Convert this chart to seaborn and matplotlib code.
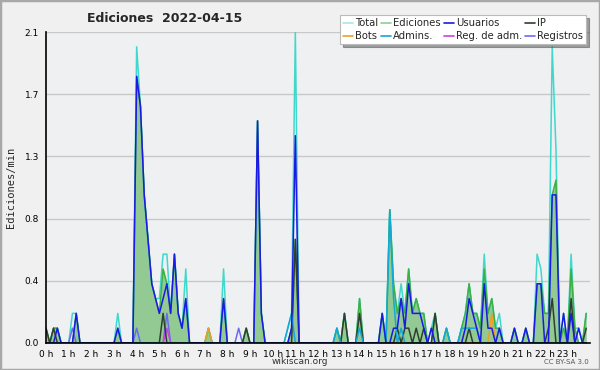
import matplotlib
matplotlib.use('Agg')
import matplotlib.pyplot as plt
from matplotlib.lines import Line2D
from matplotlib.patches import Rectangle
import numpy as np
import seaborn as sns

# edits per minute, one value per 10 minutes (12 values = 2 hours per line)
total = [
    .1, 0, .1, .1, 0, 0, 0, .2, .2, 0, 0, 0,
    0, 0, 0, 0, 0, 0, 0, .2, 0, 0, 0, 0,
    2.0, 1.6, 1.0, .7, .4, .3, .3, .6, .6, .2, .6, .2,
    .1, .5, 0, 0, 0, 0, 0, .1, 0, 0, 0, .5,
    0, 0, 0, 0, 0, .1, 0, 0, 1.5, .2, 0, 0,
    0, 0, 0, 0, .1, .2, 2.1, 0, 0, 0, 0, 0,
    0, 0, 0, 0, 0, .1, 0, .2, 0, 0, 0, .3,
    0, 0, 0, 0, 0, .2, 0, .9, .4, .2, .4, .2,
    .5, .2, .3, .2, .2, 0, .1, .2, 0, 0, .1, 0,
    0, 0, .1, .2, .4, .2, .2, .1, .6, .2, .3, .1,
    .2, 0, 0, 0, .1, 0, 0, .1, 0, 0, .6, .5,
    .2, .2, 2.0, 1.3, 0, .2, 0, .6, .1, .1, 0, .2,
]
ediciones = [
    .1, 0, .1, .1, 0, 0, 0, 0, .2, 0, 0, 0,
    0, 0, 0, 0, 0, 0, 0, .1, 0, 0, 0, 0,
    1.8, 1.6, 1.0, .7, .4, .3, .2, .5, .4, .2, .6, .2,
    .1, .3, 0, 0, 0, 0, 0, .1, 0, 0, 0, .3,
    0, 0, 0, 0, 0, .1, 0, 0, 1.5, .2, 0, 0,
    0, 0, 0, 0, 0, .1, .7, 0, 0, 0, 0, 0,
    0, 0, 0, 0, 0, .1, 0, .2, 0, 0, 0, .3,
    0, 0, 0, 0, 0, .2, 0, .9, .4, .2, .3, .2,
    .5, .2, .3, .2, .2, 0, 0, .2, 0, 0, .1, 0,
    0, 0, .1, .2, .4, .2, .2, .1, .5, .2, .3, .1,
    .1, 0, 0, 0, .1, 0, 0, .1, 0, 0, .4, .4,
    .2, .2, 1.0, 1.1, 0, .1, 0, .5, .1, 0, 0, .2,
]
usuarios = [
    0, 0, 0, .1, 0, 0, 0, 0, .2, 0, 0, 0,
    0, 0, 0, 0, 0, 0, 0, .1, 0, 0, 0, 0,
    1.8, 1.6, 1.0, .7, .4, .3, .2, .3, .4, .2, .6, .2,
    .1, .3, 0, 0, 0, 0, 0, 0, 0, 0, 0, .3,
    0, 0, 0, 0, 0, 0, 0, 0, 1.5, .2, 0, 0,
    0, 0, 0, 0, 0, .1, 1.4, 0, 0, 0, 0, 0,
    0, 0, 0, 0, 0, 0, 0, 0, 0, 0, 0, 0,
    0, 0, 0, 0, 0, .2, 0, 0, .1, .1, .3, .1,
    .4, .2, .2, .2, .1, 0, .1, 0, 0, 0, 0, 0,
    0, 0, 0, .1, .3, .2, .1, 0, .4, .1, .1, 0,
    .1, 0, 0, 0, .1, 0, 0, .1, 0, 0, .4, .4,
    0, 0, 1.0, 1.0, 0, .2, 0, .2, 0, .1, 0, 0,
]
ip = [
    .1, 0, .1, 0, 0, 0, 0, 0, 0, 0, 0, 0,
    0, 0, 0, 0, 0, 0, 0, 0, 0, 0, 0, 0,
    0, 0, 0, 0, 0, 0, 0, .2, 0, 0, 0, 0,
    0, 0, 0, 0, 0, 0, 0, 0, 0, 0, 0, 0,
    0, 0, 0, 0, 0, .1, 0, 0, 0, 0, 0, 0,
    0, 0, 0, 0, 0, 0, .7, 0, 0, 0, 0, 0,
    0, 0, 0, 0, 0, 0, 0, .2, 0, 0, 0, .2,
    0, 0, 0, 0, 0, 0, 0, 0, 0, .1, 0, .1,
    .1, 0, .1, 0, .1, 0, 0, .2, 0, 0, 0, 0,
    0, 0, 0, 0, .1, 0, 0, 0, 0, 0, 0, 0,
    0, 0, 0, 0, 0, 0, 0, 0, 0, 0, 0, 0,
    0, .1, .3, 0, 0, 0, 0, .3, 0, 0, 0, .1,
]
bots = [
    0, 0, 0, 0, 0, 0, 0, 0, 0, 0, 0, 0,
    0, 0, 0, 0, 0, 0, 0, 0, 0, 0, 0, 0,
    0, 0, 0, 0, 0, 0, 0, 0, 0, 0, 0, 0,
    0, 0, 0, 0, 0, 0, 0, .1, 0, 0, 0, 0,
    0, 0, 0, 0, 0, 0, 0, 0, 0, 0, 0, 0,
    0, 0, 0, 0, 0, 0, 0, 0, 0, 0, 0, 0,
    0, 0, 0, 0, 0, 0, 0, 0, 0, 0, 0, 0,
    0, 0, 0, 0, 0, 0, 0, 0, 0, 0, 0, 0,
    0, 0, 0, 0, 0, 0, 0, 0, 0, 0, 0, 0,
    0, 0, 0, 0, 0, 0, 0, 0, 0, 0, .2, 0,
    0, 0, 0, 0, 0, 0, 0, 0, 0, 0, 0, 0,
    0, 0, 0, 0, 0, 0, 0, 0, 0, 0, 0, 0,
]
admins = [
    0, 0, 0, 0, 0, 0, 0, 0, 0, 0, 0, 0,
    0, 0, 0, 0, 0, 0, 0, 0, 0, 0, 0, 0,
    0, 0, 0, 0, 0, 0, 0, 0, 0, 0, 0, 0,
    0, 0, 0, 0, 0, 0, 0, 0, 0, 0, 0, 0,
    0, 0, 0, 0, 0, 0, 0, 0, 0, 0, 0, 0,
    0, 0, 0, 0, .1, .2, 0, 0, 0, 0, 0, 0,
    0, 0, 0, 0, 0, .1, 0, 0, 0, 0, 0, .1,
    0, 0, 0, 0, 0, 0, 0, .9, .3, 0, .1, 0,
    0, 0, 0, 0, 0, 0, 0, 0, 0, 0, .1, 0,
    0, 0, .1, .1, .1, .1, .1, 0, 0, 0, 0, 0,
    0, 0, 0, 0, 0, 0, 0, 0, 0, 0, 0, 0,
    0, 0, 0, 0, 0, 0, 0, 0, 0, 0, 0, 0,
]
reg_adm = [
    0, 0, 0, 0, 0, 0, 0, 0, 0, 0, 0, 0,
    0, 0, 0, 0, 0, 0, 0, 0, 0, 0, 0, 0,
    0, 0, 0, 0, 0, 0, 0, 0, .1, 0, 0, 0,
] + [0] * 108
registros = [
    0, 0, 0, 0, 0, 0, 0, .1, 0, 0, 0, 0,
    0, 0, 0, 0, 0, 0, 0, 0, 0, 0, 0, 0,
    .1, 0, 0, 0, 0, 0, 0, 0, .2, 0, 0, 0,
    0, 0, 0, 0, 0, 0, 0, 0, 0, 0, 0, 0,
    0, 0, 0, .1, 0, 0, 0, 0, 0, 0, 0, 0,
] + [0] * 84

hour_labels = [f'{h} h' for h in range(24)]
ytick_vals = [0, 0.42, 0.84, 1.26, 1.68, 2.1]
ytick_labels = ['0.0', '0.4', '0.8', '1.3', '1.7', '2.1']

sns.set_style('white')
plt.rcParams['font.family'] = ['DejaVu Sans']

hours = np.arange(len(total)) / 6.0

fig = plt.figure(figsize=(6, 3.7), dpi=100, facecolor='#f0f0f0')
ax = fig.add_axes([46 / 600, 27 / 370, 544 / 600, 311 / 370])
ax.set_facecolor('#eef0f2')

for y in ytick_vals[1:]:
    ax.axhline(y, color='#c8c8c8', lw=1, zorder=0)

ax.fill_between(hours, ediciones, color='#93c993', lw=0, zorder=1)

series = [
    ('Total', total, '#40d8cc'),
    ('Ediciones', ediciones, '#3cb043'),
    ('Registros', registros, '#6a6af2'),
    ('Reg. de adm.', reg_adm, '#d040e0'),
    ('Bots', bots, '#f0a020'),
    ('IP', ip, '#2f3f2f'),
    ('Admins.', admins, '#12a8d8'),
    ('Usuarios', usuarios, '#1a1ae6'),
]
for name, vals, col in series:
    sns.lineplot(x=hours, y=vals, ax=ax, color=col, lw=1.1, zorder=2)

ax.set_xlim(0, 24)
ax.set_ylim(0, 2.1)
ax.set_xticks(range(24))
ax.set_xticklabels(hour_labels)
ax.set_xticks(np.arange(0, 24.01, 1 / 6), minor=True)
ax.set_yticks(ytick_vals)
ax.set_yticklabels(ytick_labels)
ax.set_yticks(np.arange(0, 2.11, 0.105), minor=True)
ax.tick_params(axis='both', which='major', length=4, width=1, labelsize=6.5,
               pad=1, colors='black')
ax.tick_params(axis='both', which='minor', length=3, width=1)
for s in ['top', 'right']:
    ax.spines[s].set_visible(False)
for s in ['left', 'bottom']:
    ax.spines[s].set_color('black')
    ax.spines[s].set_linewidth(1.2)

ax.set_ylabel('Ediciones/min', fontsize=7.5, family='DejaVu Sans Mono', labelpad=6)
ax.set_xlabel('')

fig.text(165 / 600, 1 - 18 / 370, 'Ediciones  2022-04-15', ha='center', va='center',
         fontsize=9, fontweight='bold')
fig.text(300 / 600, 1 - 362 / 370, 'wikiscan.org', ha='center', va='center',
         fontsize=6.5, color='#333333')
fig.text(589 / 600, 1 - 362 / 370, 'CC BY-SA 3.0', ha='right', va='center',
         fontsize=5, color='#555555')

leg_order = ['Total', 'Ediciones', 'Usuarios', 'IP',
             'Bots', 'Admins.', 'Reg. de adm.', 'Registros']
colors = {name: col for name, _, col in series}
legend_colors = {'Total': '#a8e6e4', 'Ediciones': '#8ed08e'}
# matplotlib fills columns first, so reorder for row-wise reading
col_order = [0, 4, 1, 5, 2, 6, 3, 7]
handles = [Line2D([], [], color=legend_colors.get(leg_order[i], colors[leg_order[i]]), lw=1.2)
           for i in col_order]
labels = [leg_order[i] for i in col_order]
leg = fig.legend(handles, labels, ncol=4, loc='upper right',
                 bbox_to_anchor=(591 / 600, 1 - 10 / 370), fontsize=7.2,
                 frameon=True, fancybox=False, shadow=True, framealpha=1,
                 handlelength=1.0, handletextpad=0.2, columnspacing=0.3,
                 borderpad=0.3, labelspacing=0.3)
leg.get_frame().set_edgecolor('#bbbbbb')
leg.get_frame().set_linewidth(0.8)

fig.patches.append(Rectangle((0, 0), 1, 1, transform=fig.transFigure, fill=False,
                             edgecolor='#a8a8a8', lw=2.5))

fig.savefig('out.png', dpi=100, facecolor=fig.get_facecolor())
